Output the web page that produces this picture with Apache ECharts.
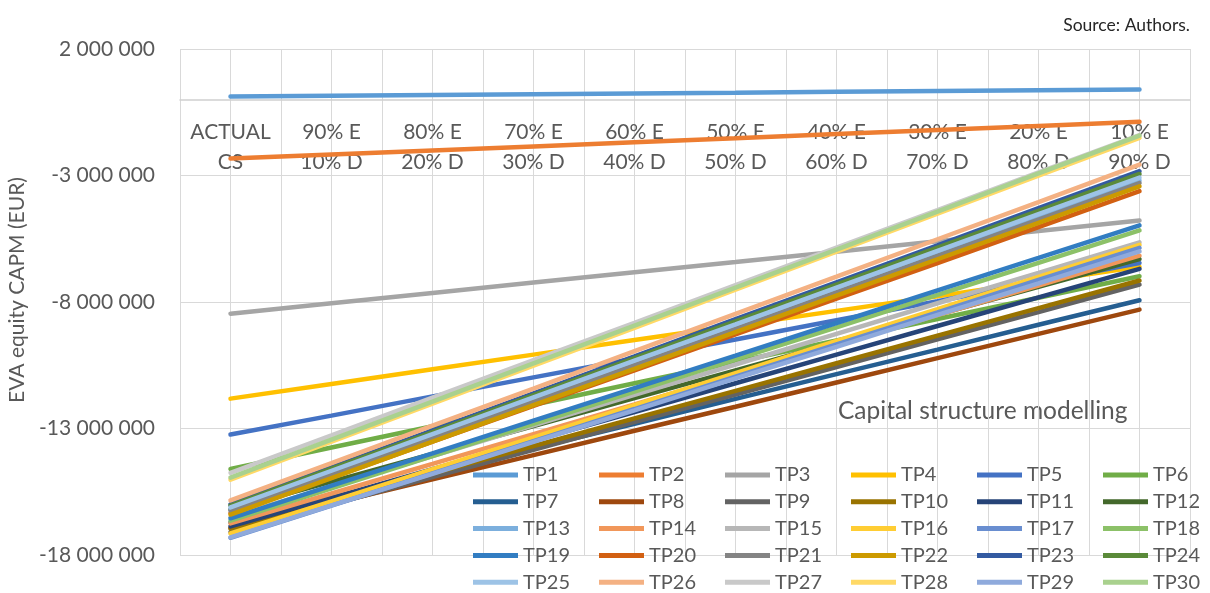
<!DOCTYPE html>
<html>
<head>
<meta charset="utf-8">
<script src="https://cdn.jsdelivr.net/npm/echarts@6/dist/echarts.min.js"></script>
<style>html,body{margin:0;padding:0;background:#fff}#c{width:1210px;height:593px}</style>
</head>
<body>
<div id="c"></div>
<script>
const categories = ['ACTUAL\nCS','90% E\n10% D','80% E\n20% D','70% E\n30% D','60% E\n40% D','50% E\n50% D','40% E\n60% D','30% E\n70% D','20% E\n80% D','10% E\n90% D'];
const yTicks = {min: -18000000, max: 2000000, interval: 5000000};

const TP1 = [120000, 150000, 180000, 210000, 240000, 270000, 310000, 340000, 370000, 400000];
const TP2 = [-2330000, -2170000, -2010000, -1850000, -1690000, -1530000, -1360000, -1200000, -1040000, -880000];
const TP3 = [-8460000, -8050000, -7640000, -7230000, -6820000, -6420000, -6010000, -5600000, -5190000, -4780000];
const TP4 = [-11820000, -11240000, -10660000, -10080000, -9500000, -8930000, -8350000, -7770000, -7190000, -6610000];
const TP5 = [-13240000, -12490000, -11730000, -10980000, -10230000, -9480000, -8720000, -7970000, -7210000, -6460000];
const TP6 = [-14600000, -13750000, -12910000, -12060000, -11210000, -10370000, -9520000, -8670000, -7830000, -6980000];
const TP7 = [-16710000, -15730000, -14760000, -13780000, -12810000, -11830000, -10850000, -9880000, -8900000, -7930000];
const TP8 = [-16930000, -15970000, -15010000, -14050000, -13090000, -12140000, -11180000, -10220000, -9260000, -8300000];
const TP9 = [-17100000, -16010000, -14920000, -13840000, -12750000, -11660000, -10570000, -9480000, -8400000, -7310000];
const TP10 = [-16960000, -15870000, -14780000, -13690000, -12600000, -11510000, -10420000, -9330000, -8240000, -7150000];
const TP11 = [-16870000, -15740000, -14610000, -13480000, -12350000, -11210000, -10080000, -8950000, -7820000, -6690000];
const TP12 = [-16200000, -15100000, -14000000, -12900000, -11800000, -10700000, -9600000, -8500000, -7400000, -6300000];
const TP13 = [-16200000, -14760000, -13310000, -11870000, -10420000, -8980000, -7530000, -6090000, -4640000, -3200000];
const TP14 = [-16750000, -15570000, -14400000, -13220000, -12050000, -10870000, -9700000, -8520000, -7350000, -6170000];
const TP15 = [-16500000, -15290000, -14090000, -12880000, -11670000, -10470000, -9260000, -8050000, -6850000, -5640000];
const TP16 = [-17150000, -15880000, -14610000, -13350000, -12080000, -10810000, -9540000, -8280000, -7010000, -5740000];
const TP17 = [-17320000, -16050000, -14770000, -13500000, -12230000, -10950000, -9680000, -8410000, -7130000, -5860000];
const TP18 = [-16640000, -15370000, -14090000, -12820000, -11540000, -10270000, -9000000, -7720000, -6450000, -5170000];
const TP19 = [-16550000, -15260000, -13980000, -12690000, -11400000, -10120000, -8830000, -7540000, -6260000, -4970000];
const TP20 = [-16350000, -14940000, -13520000, -12110000, -10700000, -9280000, -7870000, -6460000, -5040000, -3620000];
const TP21 = [-16250000, -14810000, -13370000, -11930000, -10490000, -9060000, -7620000, -6180000, -4740000, -3300000];
const TP22 = [-16400000, -14960000, -13520000, -12080000, -10640000, -9190000, -7750000, -6310000, -4870000, -3430000];
const TP23 = [-16000000, -14540000, -13070000, -11610000, -10150000, -8680000, -7220000, -5760000, -4290000, -2830000];
const TP24 = [-16050000, -14590000, -13140000, -11680000, -10220000, -8770000, -7310000, -5850000, -4400000, -2940000];
const TP25 = [-16120000, -14670000, -13220000, -11770000, -10320000, -8880000, -7430000, -5980000, -4530000, -3080000];
const TP26 = [-15840000, -14370000, -12890000, -11420000, -9940000, -8470000, -7000000, -5520000, -4050000, -2570000];
const TP27 = [-14750000, -13270000, -11780000, -10300000, -8820000, -7330000, -5850000, -4370000, -2880000, -1400000];
const TP28 = [-15020000, -13520000, -12020000, -10520000, -9020000, -7510000, -6010000, -4510000, -3010000, -1510000];
const TP29 = [-17300000, -16040000, -14790000, -13530000, -12280000, -11020000, -9770000, -8510000, -7260000, -6000000];
const TP30 = [-14940000, -13440000, -11940000, -10430000, -8930000, -7430000, -5930000, -4430000, -2920000, -1420000];

const seriesNames = ['TP1','TP2','TP3','TP4','TP5','TP6','TP7','TP8','TP9','TP10','TP11','TP12','TP13','TP14','TP15','TP16','TP17','TP18','TP19','TP20','TP21','TP22','TP23','TP24','TP25','TP26','TP27','TP28','TP29','TP30'];
const seriesData = [TP1,TP2,TP3,TP4,TP5,TP6,TP7,TP8,TP9,TP10,TP11,TP12,TP13,TP14,TP15,TP16,TP17,TP18,TP19,TP20,TP21,TP22,TP23,TP24,TP25,TP26,TP27,TP28,TP29,TP30];
const colors = ['#5B9BD5','#ED7D31','#A5A5A5','#FFC000','#4472C4','#70AD47',
  '#255E91','#9E480E','#636363','#997300','#264478','#43682B',
  '#7CAFDD','#F1975A','#B7B7B7','#FFCD33','#698ED0','#8CC168',
  '#327DC2','#D26012','#848484','#CC9A00','#335AA1','#5A8A39',
  '#9DC3E6','#F4B183','#C9C9C9','#FFD966','#8FAADC','#A9D18E'];

const FONT = 'Lato';
const TXT = '#595959';
const GRIDC = '#d9d9d9';

function fmt(v){
  const s = Math.abs(Math.round(v)).toString().replace(/\B(?=(\d{3})+(?!\d))/g, ' ');
  return (v < 0 ? '-' : '') + s;
}

const legends = [];
for (let r = 0; r < 5; r++) {
  legends.push({
    data: seriesNames.slice(r*6, r*6+6),
    left: 473,
    top: 465 + r*26.8,
    width: 780,
    orient: 'horizontal',
    itemGap: 0,
    itemWidth: 45,
    itemHeight: 5,
    padding: 0,
    icon: 'rect',
    formatter: n => '{a|' + n + '}',
    textStyle: {
      fontFamily: FONT, fontSize: 20, color: TXT,
      rich: {a: {width: 76, fontFamily: FONT, fontSize: 20, color: TXT, lineHeight: 22}}
    }
  });
}

const chart = echarts.init(document.getElementById('c'), null, {renderer: 'canvas'});
chart.setOption({
  animation: false,
  color: colors,
  title: {
    text: 'Source: Authors.',
    right: 15, top: 11,
    textStyle: {fontFamily: FONT, fontSize: 17.5, fontWeight: 'normal', color: '#262626'}
  },
  graphic: [{
    type: 'text', left: 838, top: 399,
    style: {text: 'Capital structure modelling', fontFamily: FONT, fontSize: 24.5, fill: TXT}
  }],
  legend: legends,
  grid: {left: 180, right: 20, top: 49, bottom: 38, containLabel: false, outerBoundsMode: 'none'},
  xAxis: [{
    type: 'category',
    data: categories,
    boundaryGap: true,
    position: 'top',
    offset: -50.6,
    axisLine: {show: true, onZero: false, lineStyle: {color: '#d0d0d0', width: 1.5}},
    axisTick: {show: false},
    axisLabel: {inside: true, interval: 0, margin: 18, color: TXT, fontFamily: FONT, fontSize: 21, lineHeight: 30},
    splitLine: {show: true, interval: 0, lineStyle: {color: GRIDC, width: 1}}
  }, {
    type: 'category',
    position: 'bottom',
    data: new Array(20).fill(''),
    boundaryGap: true,
    axisLine: {show: false, onZero: false},
    axisTick: {show: false},
    axisLabel: {show: false, interval: 0},
    splitLine: {show: true, interval: 0, lineStyle: {color: GRIDC, width: 1}}
  }],
  yAxis: {
    type: 'value',
    min: yTicks.min, max: yTicks.max, interval: yTicks.interval,
    name: 'EVA equity CAPM (EUR)',
    nameLocation: 'middle',
    nameRotate: 90,
    nameGap: 148,
    nameTextStyle: {fontFamily: FONT, fontSize: 21, color: TXT, padding: [0, 0, 0, 24]},
    axisLine: {show: false},
    axisTick: {show: false},
    axisLabel: {formatter: fmt, margin: 25, color: TXT, fontFamily: FONT, fontSize: 21},
    splitLine: {show: true, lineStyle: {color: GRIDC, width: 1}}
  },
  series: seriesData.map((d, i) => ({
    name: seriesNames[i],
    type: 'line',
    xAxisIndex: 0,
    data: d,
    symbol: 'none',
    showSymbol: false,
    lineStyle: {width: 4.5, color: colors[i], cap: 'round'},
    itemStyle: {color: colors[i]}
  }))
});
</script>
</body>
</html>
